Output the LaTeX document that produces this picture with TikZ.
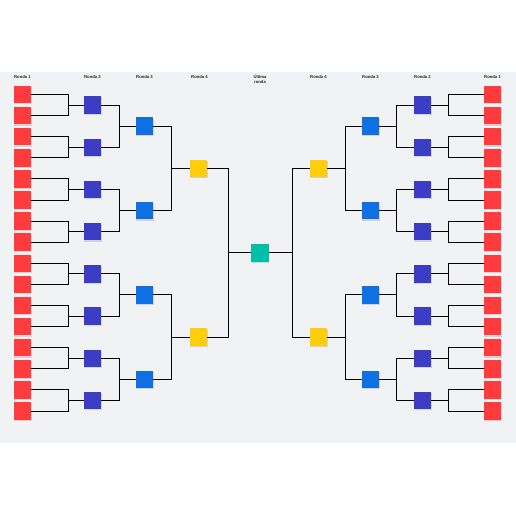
\documentclass[tikz,border=0pt]{standalone}
\usepackage{fontspec}
\setmainfont{Liberation Sans}
\usetikzlibrary{shadows}
\definecolor{bgc}{HTML}{F1F2F4}
\definecolor{cred}{HTML}{FF3B3D}
\definecolor{cpur}{HTML}{3B3EC4}
\definecolor{cblu}{HTML}{0F70E4}
\definecolor{cyel}{HTML}{FFCE0A}
\definecolor{ctea}{HTML}{00BFA8}
\definecolor{ctxt}{HTML}{222222}
\begin{document}
\begin{tikzpicture}[x=1pt,y=-1pt,
  sq/.style={minimum size=17.5pt,inner sep=0pt,outer sep=0pt,
    drop shadow={shadow xshift=0.3pt,shadow yshift=-1.2pt,opacity=0.12,fill=black}},
  ln/.style={draw=black,line width=1pt},
  hdr/.style={font=\bfseries\fontsize{4.2}{5}\selectfont,text=ctxt,inner sep=0pt,align=center}]
\useasboundingbox (0,0) rectangle (516,516);
\fill[white] (0,0) rectangle (516,516);
\fill[bgc] (0,72) rectangle (516,443);
% column coordinates
\coordinate (V1) at (68,0);
\coordinate (V2) at (119,0);
\coordinate (V3) at (171,0);
\coordinate (V4) at (228,0);
\coordinate (W1) at (448,0);
\coordinate (W2) at (396,0);
\coordinate (W3) at (345,0);
\coordinate (W4) at (292.5,0);
% headers
\node[hdr] (h1) at (22.5,77) {Ronda 1};
\node[hdr] (h2) at (92.5,77) {Ronda 2};
\node[hdr] (h3) at (144.5,77) {Ronda 3};
\node[hdr] (h4) at (199.5,77) {Ronda 4};
\node[hdr] (hf) at (260,79.5) {Última\\ronda};
\node[hdr] (k4) at (318.5,77) {Ronda 4};
\node[hdr] (k3) at (370.5,77) {Ronda 3};
\node[hdr] (k2) at (422.5,77) {Ronda 2};
\node[hdr] (k1) at (492.5,77) {Ronda 1};
% squares
\foreach \i in {0,...,15}{
  \node[sq,fill=cred] (LA\i) at (22.5,{94.5+21.1*\i}) {};
  \node[sq,fill=cred] (RA\i) at (492.5,{94.5+21.1*\i}) {};
}
\foreach \i in {0,...,7}{
  \node[sq,fill=cpur] (LB\i) at (92.5,{105.05+42.2*\i}) {};
  \node[sq,fill=cpur] (RB\i) at (422.5,{105.05+42.2*\i}) {};
}
\foreach \i in {0,...,3}{
  \node[sq,fill=cblu] (LC\i) at (144.5,{126.15+84.4*\i}) {};
  \node[sq,fill=cblu] (RC\i) at (370.5,{126.15+84.4*\i}) {};
}
\foreach \i in {0,1}{
  \node[sq,fill=cyel] (LD\i) at (198.5,{168.35+168.8*\i}) {};
  \node[sq,fill=cyel] (RD\i) at (318.5,{168.35+168.8*\i}) {};
}
\node[sq,fill=ctea] (C) at (260,252.75) {};
% connectors
\foreach \k in {0,...,7}{
  \pgfmathtruncatemacro\a{2*\k}
  \pgfmathtruncatemacro\b{2*\k+1}
  \draw[ln] (LA\a.east) -- (LA\a.east -| V1) |- (LB\k.west);
  \draw[ln] (LA\b.east) -- (LA\b.east -| V1) |- (LB\k.west);
  \draw[ln] (RA\a.west) -- (RA\a.west -| W1) |- (RB\k.east);
  \draw[ln] (RA\b.west) -- (RA\b.west -| W1) |- (RB\k.east);
}
\foreach \k in {0,...,3}{
  \pgfmathtruncatemacro\a{2*\k}
  \pgfmathtruncatemacro\b{2*\k+1}
  \draw[ln] (LB\a.east) -- (LB\a.east -| V2) |- (LC\k.west);
  \draw[ln] (LB\b.east) -- (LB\b.east -| V2) |- (LC\k.west);
  \draw[ln] (RB\a.west) -- (RB\a.west -| W2) |- (RC\k.east);
  \draw[ln] (RB\b.west) -- (RB\b.west -| W2) |- (RC\k.east);
}
\foreach \k in {0,1}{
  \pgfmathtruncatemacro\a{2*\k}
  \pgfmathtruncatemacro\b{2*\k+1}
  \draw[ln] (LC\a.east) -- (LC\a.east -| V3) |- (LD\k.west);
  \draw[ln] (LC\b.east) -- (LC\b.east -| V3) |- (LD\k.west);
  \draw[ln] (RC\a.west) -- (RC\a.west -| W3) |- (RD\k.east);
  \draw[ln] (RC\b.west) -- (RC\b.west -| W3) |- (RD\k.east);
}
\draw[ln] (LD0.east) -- (LD0.east -| V4) |- (C.west);
\draw[ln] (LD1.east) -- (LD1.east -| V4) |- (C.west);
\draw[ln] (RD0.west) -- (RD0.west -| W4) |- (C.east);
\draw[ln] (RD1.west) -- (RD1.west -| W4) |- (C.east);
\end{tikzpicture}
\end{document}
